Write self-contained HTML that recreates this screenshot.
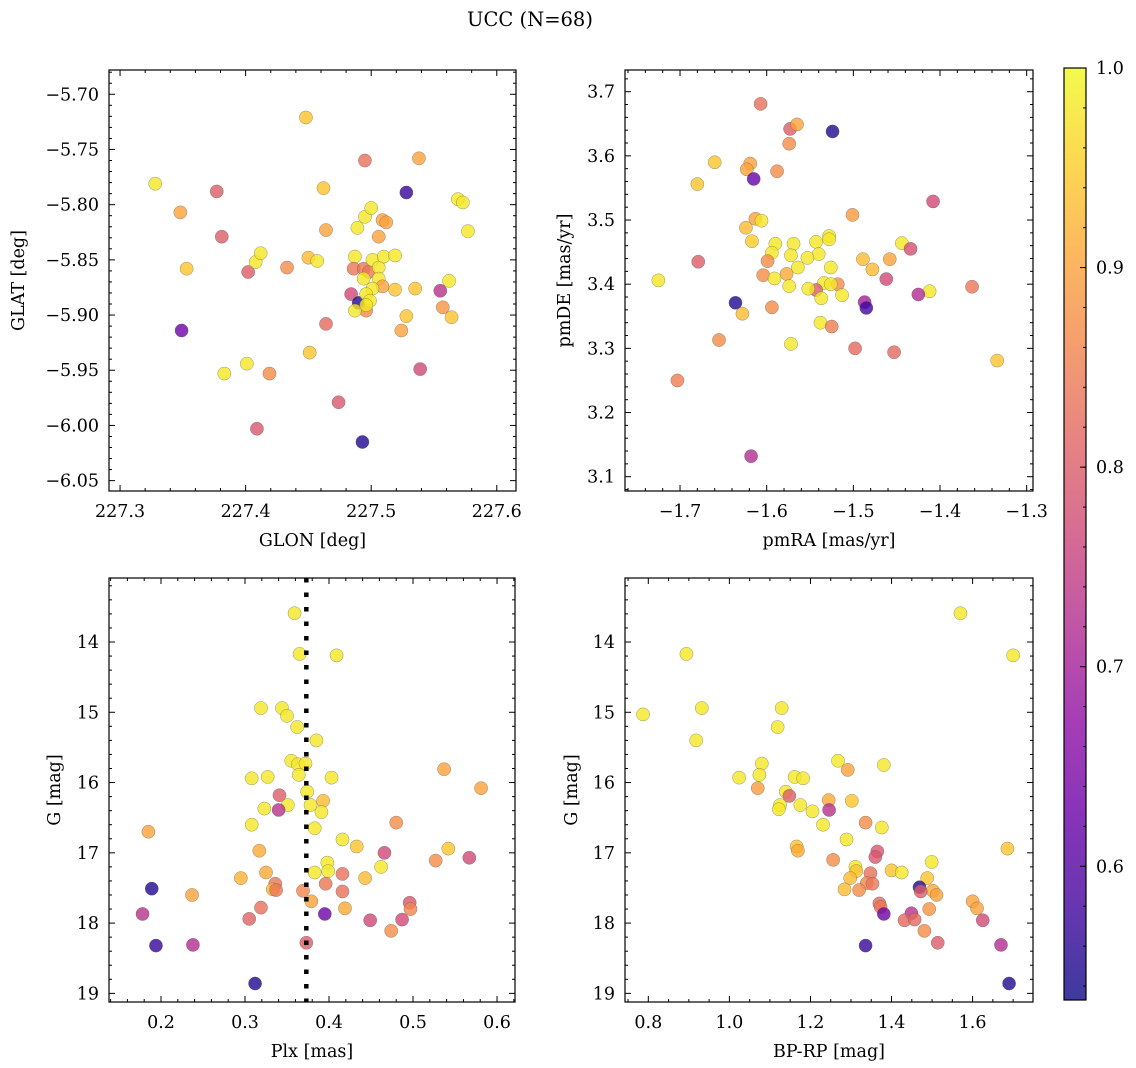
<!DOCTYPE html>
<html><head><meta charset="utf-8">
<style>
html,body{margin:0;padding:0;background:#fff;}
svg{display:block;font-family:"DejaVu Serif","Liberation Serif",serif;}
</style></head>
<body>
<svg id="chart" width="1136" height="1068" viewBox="0 0 1136 1068" xmlns="http://www.w3.org/2000/svg">
<defs><linearGradient id="cbgrad" x1="0" y1="1" x2="0" y2="0"></linearGradient></defs>
<text x="530" y="26" font-size="19.5" text-anchor="middle">UCC (N=68)</text>
</svg>
<script>
// ---- data (value arrays) ----
const p1Glon = [227.328,227.348,227.377,227.381,227.353,227.349,227.383,227.401,227.419,227.402,227.408,227.412,227.433,227.409,227.448,227.450,227.457,227.462,227.464,227.451,227.464,227.474,227.484,227.495,227.493,227.490,227.487,227.486,227.494,227.498,227.496,227.487,227.489,227.495,227.500,227.494,227.501,227.506,227.510,227.506,227.509,227.501,227.496,227.499,227.496,227.506,227.509,227.512,227.519,227.519,227.535,227.528,227.538,227.528,227.524,227.539,227.555,227.557,227.562,227.564,227.569,227.573,227.577];
const p1Glat = [-5.781,-5.807,-5.788,-5.829,-5.858,-5.914,-5.953,-5.944,-5.953,-5.861,-5.852,-5.844,-5.857,-6.003,-5.721,-5.848,-5.851,-5.785,-5.823,-5.934,-5.908,-5.979,-5.881,-5.760,-6.015,-5.889,-5.847,-5.858,-5.858,-5.861,-5.896,-5.896,-5.821,-5.811,-5.803,-5.867,-5.850,-5.857,-5.847,-5.867,-5.874,-5.876,-5.881,-5.887,-5.891,-5.829,-5.814,-5.816,-5.846,-5.877,-5.876,-5.789,-5.758,-5.901,-5.914,-5.949,-5.878,-5.893,-5.869,-5.902,-5.795,-5.798,-5.824];
const p1Prob = [0.98,0.90,0.80,0.80,0.94,0.63,0.98,0.98,0.87,0.80,0.98,0.98,0.87,0.79,0.94,0.93,0.98,0.94,0.90,0.94,0.82,0.79,0.77,0.83,0.55,0.55,0.98,0.84,0.84,0.84,0.87,0.98,0.98,0.98,0.98,0.98,0.98,0.98,0.98,0.98,0.90,0.98,0.98,0.98,0.98,0.90,0.90,0.90,0.98,0.94,0.94,0.57,0.90,0.94,0.90,0.77,0.73,0.88,0.98,0.94,0.98,0.98,0.98];

const p2PmRA = [-1.607,-1.573,-1.565,-1.524,-1.574,-1.660,-1.619,-1.623,-1.588,-1.615,-1.680,-1.408,-1.501,-1.613,-1.606,-1.624,-1.617,-1.528,-1.528,-1.543,-1.590,-1.569,-1.444,-1.434,-1.594,-1.572,-1.540,-1.553,-1.679,-1.599,-1.489,-1.458,-1.564,-1.526,-1.478,-1.604,-1.577,-1.591,-1.725,-1.462,-1.518,-1.534,-1.526,-1.574,-1.363,-1.543,-1.552,-1.412,-1.425,-1.513,-1.537,-1.636,-1.487,-1.485,-1.628,-1.594,-1.538,-1.525,-1.655,-1.572,-1.498,-1.453,-1.334,-1.703,-1.618];
const p2PmDE = [3.681,3.642,3.649,3.638,3.619,3.590,3.588,3.579,3.576,3.564,3.556,3.529,3.508,3.502,3.499,3.488,3.467,3.475,3.470,3.466,3.463,3.463,3.464,3.455,3.449,3.445,3.447,3.441,3.435,3.436,3.439,3.439,3.426,3.426,3.423,3.414,3.416,3.409,3.406,3.408,3.400,3.402,3.400,3.397,3.396,3.391,3.393,3.389,3.384,3.383,3.378,3.371,3.372,3.363,3.354,3.364,3.340,3.334,3.313,3.307,3.300,3.294,3.281,3.250,3.132];
const p2Prob = [0.83,0.80,0.90,0.55,0.87,0.94,0.90,0.90,0.87,0.62,0.94,0.77,0.89,0.90,0.98,0.93,0.95,0.98,0.98,0.98,0.98,0.98,0.98,0.78,0.98,0.98,0.98,0.98,0.80,0.87,0.93,0.90,0.98,0.98,0.93,0.87,0.91,0.98,0.98,0.77,0.87,0.98,0.98,0.98,0.84,0.80,0.98,0.98,0.72,0.98,0.98,0.55,0.70,0.58,0.93,0.87,0.98,0.85,0.87,0.98,0.82,0.82,0.94,0.85,0.72];

const p3Plx = [0.359,0.365,0.409,0.319,0.344,0.350,0.362,0.385,0.355,0.363,0.372,0.364,0.308,0.327,0.403,0.537,0.581,0.374,0.341,0.393,0.378,0.351,0.323,0.340,0.391,0.480,0.185,0.308,0.383,0.416,0.433,0.317,0.542,0.466,0.567,0.527,0.398,0.462,0.399,0.383,0.416,0.325,0.295,0.443,0.336,0.396,0.189,0.333,0.337,0.369,0.416,0.237,0.379,0.496,0.497,0.319,0.419,0.178,0.395,0.305,0.449,0.487,0.474,0.194,0.238,0.373,0.312];
const p3G = [13.59,14.17,14.19,14.94,14.94,15.05,15.21,15.40,15.69,15.74,15.73,15.89,15.94,15.92,15.93,15.81,16.08,16.13,16.18,16.26,16.32,16.32,16.37,16.39,16.42,16.57,16.70,16.60,16.65,16.81,16.91,16.97,16.94,17.00,17.07,17.11,17.14,17.20,17.26,17.28,17.30,17.28,17.36,17.36,17.44,17.44,17.51,17.52,17.53,17.54,17.55,17.60,17.69,17.71,17.80,17.78,17.79,17.87,17.87,17.94,17.96,17.95,18.11,18.32,18.31,18.28,18.86];
const p3Prob = [0.98,0.98,0.98,0.98,0.98,0.98,0.98,0.98,0.98,0.98,0.98,0.98,0.98,0.98,0.98,0.90,0.90,0.98,0.80,0.93,0.98,0.98,0.98,0.73,0.98,0.87,0.90,0.98,0.98,0.98,0.94,0.91,0.94,0.77,0.77,0.87,0.98,0.98,0.98,0.98,0.83,0.91,0.92,0.93,0.84,0.84,0.55,0.93,0.84,0.86,0.83,0.90,0.90,0.79,0.86,0.83,0.91,0.73,0.63,0.81,0.77,0.77,0.87,0.57,0.72,0.80,0.55];

const p4BpRp = [1.570,0.894,1.700,0.787,0.932,1.129,0.918,1.119,1.268,1.080,1.381,1.292,1.074,1.024,1.161,1.182,1.070,1.139,1.148,1.245,1.302,1.125,1.175,1.122,1.246,1.205,1.336,1.231,1.376,1.289,1.686,1.166,1.169,1.365,1.360,1.256,1.499,1.311,1.400,1.425,1.313,1.348,1.298,1.488,1.339,1.353,1.469,1.284,1.320,1.502,1.472,1.511,1.600,1.370,1.611,1.493,1.373,1.381,1.449,1.432,1.457,1.625,1.481,1.336,1.514,1.670,1.690];
const p4G = [13.59,14.17,14.19,15.03,14.94,14.94,15.40,15.21,15.69,15.73,15.75,15.82,15.89,15.93,15.92,15.94,16.08,16.13,16.19,16.25,16.26,16.32,16.32,16.38,16.39,16.41,16.57,16.60,16.64,16.81,16.94,16.91,16.97,16.98,17.06,17.10,17.13,17.20,17.25,17.28,17.26,17.29,17.36,17.36,17.43,17.44,17.49,17.52,17.53,17.54,17.55,17.60,17.69,17.72,17.79,17.80,17.77,17.87,17.86,17.96,17.95,17.96,18.11,18.32,18.28,18.31,18.86];
const p4Prob = [0.98,0.98,0.98,0.98,0.98,0.98,0.98,0.98,0.98,0.98,0.98,0.90,0.98,0.98,0.98,0.98,0.89,0.98,0.80,0.91,0.94,0.98,0.98,0.98,0.73,0.98,0.87,0.98,0.98,0.98,0.94,0.94,0.91,0.79,0.79,0.87,0.98,0.98,0.94,0.98,0.94,0.83,0.93,0.94,0.86,0.84,0.55,0.93,0.87,0.91,0.80,0.90,0.90,0.82,0.90,0.88,0.84,0.63,0.73,0.82,0.82,0.77,0.87,0.57,0.80,0.72,0.55];

const plxMean = [0.373];
const cbTicks = [0.6,0.7,0.8,0.9,1.0];
const cbRange = [0.533,1.0];

// ---- rendering ----
const NS = 'http://www.w3.org/2000/svg';
const svg = document.getElementById('chart');
const plasma = [[13,8,135],[65,4,157],[106,0,168],[143,13,164],[177,42,144],[204,71,120],[225,100,98],[242,132,75],[252,166,54],[252,206,37],[240,249,33]];
function cmap(t){ t=Math.max(0,Math.min(1,t)); const f=t*10, i=Math.min(9,Math.floor(f)), r=f-i; const a=plasma[i], b=plasma[i+1]; return 'rgb('+[0,1,2].map(k=>Math.round(a[k]+(b[k]-a[k])*r)).join(',')+')'; }
function colorFor(v){ return cmap((v-cbRange[0])/(cbRange[1]-cbRange[0])); }
function mk(tag, attrs, parent){ const e=document.createElementNS(NS,tag); for(const k in attrs) e.setAttribute(k,attrs[k]); (parent||svg).appendChild(e); return e; }
function fmt(v,d){ return v.toFixed(d).replace('-','\u2212'); }
const FS = 17.5;

function panel(cfg){
  const g = mk('g',{});
  
  
  const {L,R,T,B} = cfg;
  const sx = v => L + (v-cfg.x0)/(cfg.x1-cfg.x0)*(R-L);
  const sy = v => T + (v-cfg.y0)/(cfg.y1-cfg.y0)*(B-T);
  const tg = mk('g',{stroke:'#000','stroke-width':1},g);
  
  
  const xlo=Math.min(cfg.x0,cfg.x1), xhi=Math.max(cfg.x0,cfg.x1), ylo=Math.min(cfg.y0,cfg.y1), yhi=Math.max(cfg.y0,cfg.y1);
  for(let k=Math.ceil(xlo/cfg.xMinor-1e-6);k*cfg.xMinor<=xhi+1e-9;k++){ const v=k*cfg.xMinor, x=sx(v);
    const major = cfg.xMajor.some(m=>Math.abs(m-v)<1e-6); const len=major?6:3;
    mk('line',{x1:x,y1:B,x2:x,y2:B-len},tg); mk('line',{x1:x,y1:T,x2:x,y2:T+len},tg); }
  for(let k=Math.ceil(ylo/cfg.yMinor-1e-6);k*cfg.yMinor<=yhi+1e-9;k++){ const v=k*cfg.yMinor, y=sy(v);
    const major = cfg.yMajor.some(m=>Math.abs(m-v)<1e-6); const len=major?6:3;
    mk('line',{x1:L,y1:y,x2:L+len,y2:y},tg); mk('line',{x1:R,y1:y,x2:R-len,y2:y},tg); }
  cfg.xMajor.forEach(v=>{ const t=mk('text',{x:sx(v),y:B+26,'font-size':FS,'text-anchor':'middle'},g); t.textContent=fmt(v,cfg.xDec);
    
     });
  cfg.yMajor.forEach(v=>{ const t=mk('text',{x:L-10,y:sy(v)+6,'font-size':FS,'text-anchor':'end'},g); t.textContent=fmt(v,cfg.yDec);
    
     });
  const xt=mk('text',{x:(L+R)/2,y:B+55,'font-size':FS,'text-anchor':'middle'},g); xt.textContent=cfg.xTitle;
  
  
  const yt=mk('text',{x:cfg.yTitleX,y:(T+B)/2,'font-size':FS,'text-anchor':'middle',transform:'rotate(-90 '+cfg.yTitleX+' '+(T+B)/2+')'},g); yt.textContent=cfg.yTitle;
  
  
  const pg = mk('g',{},g);
  
  
  cfg.xs.forEach((xv,i)=>{ const c=mk('circle',{cx:sx(xv),cy:sy(cfg.ys[i]),r:6.6,fill:colorFor(cfg.cs[i]),'fill-opacity':0.8,stroke:'#555','stroke-opacity':0.6,'stroke-width':0.5},pg);
    
     });
  if(cfg.vline){ const l=mk('line',{x1:sx(cfg.vline[0]),x2:sx(cfg.vline[0]),y1:T,y2:B,stroke:'#000','stroke-width':4.5,'stroke-dasharray':'4.5 10'},g);
    
     }
  const fr=mk('rect',{x:L,y:T,width:R-L,height:B-T,fill:'none',stroke:'#000','stroke-width':1.2},g);
  
  
}
function range(a,b,s){ const o=[]; for(let v=a; v<=b+1e-9; v+=s) o.push(Math.round(v*1000)/1000); return o; }

panel({name:'glon-glat-panel',L:109,R:516,T:70,B:491,x0:227.2912,x1:227.6153,y0:-5.678,y1:-6.0594,
  xMajor:range(227.3,227.6,0.1),xMinor:0.02,xDec:1,yMajor:range(-6.05,-5.70,0.05),yMinor:0.01,yDec:2,
  xTitle:'GLON [deg]',yTitle:'GLAT [deg]',yTitleX:24,xs:p1Glon,ys:p1Glat,cs:p1Prob});
panel({name:'pm-panel',L:625,R:1033,T:70,B:491,x0:-1.7635,x1:-1.2927,y0:3.7338,y1:3.0777,
  xMajor:range(-1.7,-1.3,0.1),xMinor:0.02,xDec:1,yMajor:range(3.1,3.7,0.1),yMinor:0.02,yDec:1,
  xTitle:'pmRA [mas/yr]',yTitle:'pmDE [mas/yr]',yTitleX:570,xs:p2PmRA,ys:p2PmDE,cs:p2Prob});
panel({name:'plx-g-panel',L:109,R:515,T:578,B:1002,x0:0.1381,x1:0.6214,y0:13.089,y1:19.123,
  xMajor:range(0.2,0.6,0.1),xMinor:0.02,xDec:1,yMajor:range(14,19,1),yMinor:0.2,yDec:0,
  xTitle:'Plx [mas]',yTitle:'G [mag]',yTitleX:60,xs:p3Plx,ys:p3G,cs:p3Prob,vline:plxMean});
panel({name:'cmd-panel',L:625,R:1033,T:578,B:1002,x0:0.7425,x1:1.749,y0:13.089,y1:19.123,
  xMajor:range(0.8,1.6,0.2),xMinor:0.05,xDec:1,yMajor:range(14,19,1),yMinor:0.2,yDec:0,
  xTitle:'BP-RP [mag]',yTitle:'G [mag]',yTitleX:577,xs:p4BpRp,ys:p4G,cs:p4Prob});

// colorbar
const grad=document.getElementById('cbgrad');
for(let i=0;i<=20;i++){ const s=document.createElementNS(NS,'stop'); s.setAttribute('offset',(i/20)); s.setAttribute('stop-color',cmap(i/20)); s.setAttribute('stop-opacity',0.8); grad.appendChild(s); }
const cb=mk('g',{});


const cT=68, cB=1000, cL=1064, cR=1086;
mk('rect',{x:cL,y:cT,width:cR-cL,height:cB-cT,fill:'url(#cbgrad)',stroke:'#000','stroke-width':1.2},cb);
const cy = v => cB - (v-cbRange[0])/(cbRange[1]-cbRange[0])*(cB-cT);
for(let v=0.54; v<=1.0001; v+=0.02){ mk('line',{x1:cR,x2:cR-3,y1:cy(v),y2:cy(v),stroke:'#000'},cb); }
cbTicks.forEach(v=>{ mk('line',{x1:cR,x2:cR-6,y1:cy(v),y2:cy(v),stroke:'#000'},cb);
  const t=mk('text',{x:cR+10,y:cy(v)+6,'font-size':FS},cb); t.textContent=v.toFixed(1);
  
   });
</script>
</body></html>
